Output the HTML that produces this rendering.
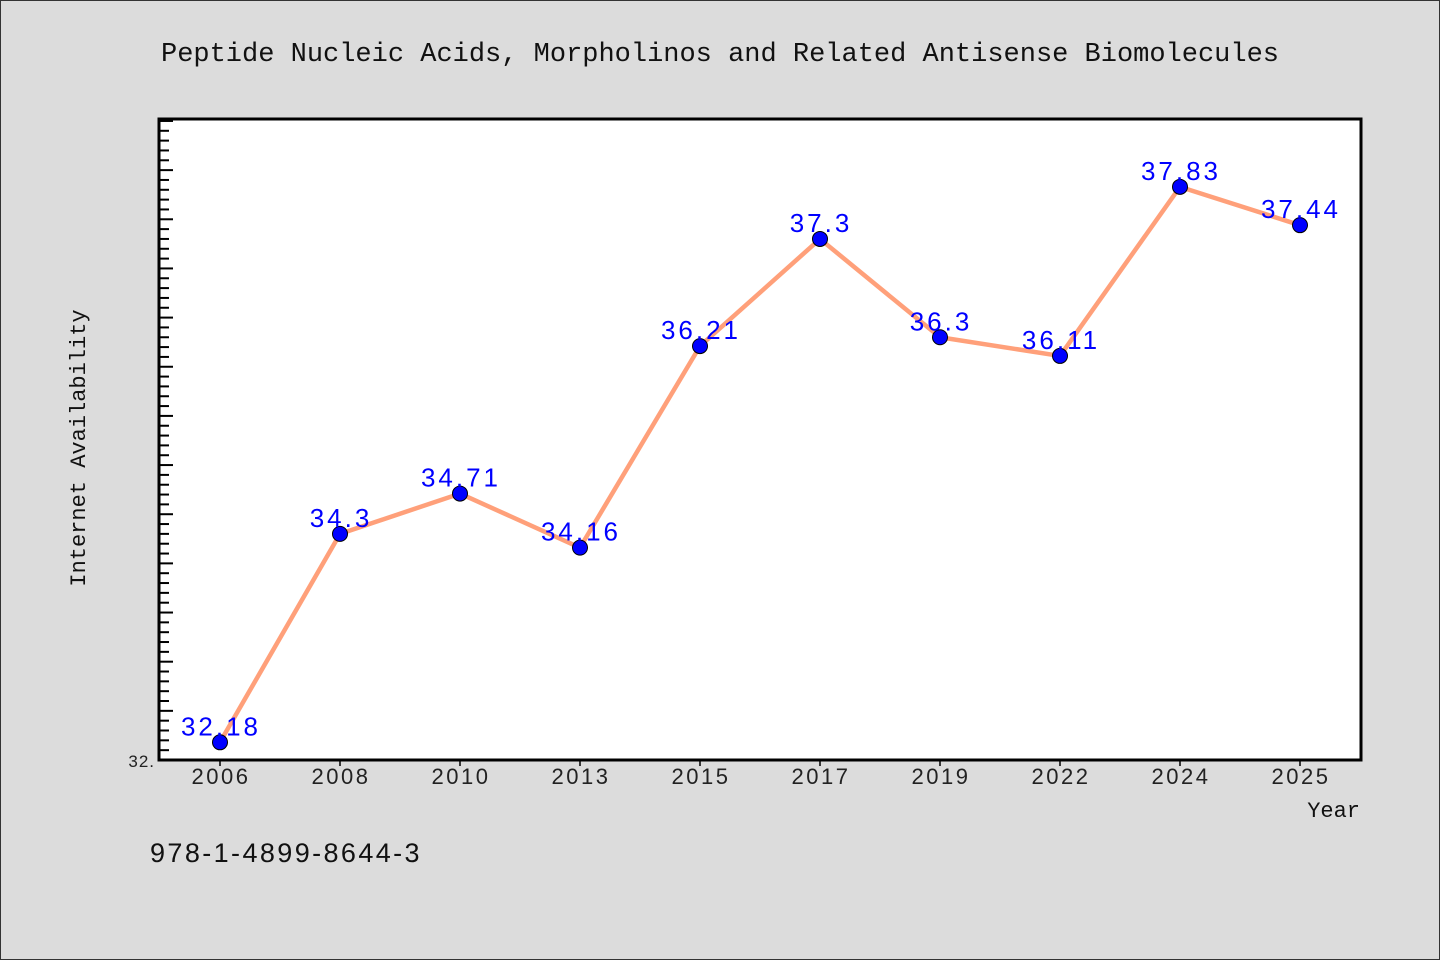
<!DOCTYPE html>
<html><head><meta charset="utf-8"><style>
html,body{margin:0;padding:0;background:#dcdcdc;}
svg{display:block;}
</style></head><body>
<svg width="1440" height="960" xmlns="http://www.w3.org/2000/svg">
<rect x="0.5" y="0.5" width="1439" height="959" fill="#dcdcdc" stroke="#333"/>
<text x="720" y="61" text-anchor="middle" font-family="Liberation Mono, DejaVu Sans Mono, monospace" font-size="27" fill="#111">Peptide Nucleic Acids, Morpholinos and Related Antisense Biomolecules</text>
<rect x="159" y="119" width="1202" height="641" fill="#fff"/>
<g id="ticks"></g>
<g id="xticks"></g>
<g id="series"></g>
<rect x="159" y="119" width="1202" height="641" fill="none" stroke="#000" stroke-width="3"/>
<text x="155" y="767" text-anchor="end" font-family="Liberation Sans, sans-serif" font-size="17" letter-spacing="1" fill="#222">32.</text>
<text x="85" y="448" text-anchor="middle" transform="rotate(-90 85 448)" font-family="Liberation Mono, DejaVu Sans Mono, monospace" font-size="22" fill="#111">Internet Availability</text>
<text x="1360" y="817" text-anchor="end" font-family="Liberation Mono, DejaVu Sans Mono, monospace" font-size="22" fill="#111">Year</text>
<text x="150" y="862" font-family="Liberation Sans, sans-serif" font-size="27" letter-spacing="2.4" fill="#111">978-1-4899-8644-3</text>
</svg>
<script>
const categories=["2006","2008","2010","2013","2015","2017","2019","2022","2024","2025"];
const values=[32.18,34.3,34.71,34.16,36.21,37.3,36.3,36.11,37.83,37.44];
const labels=["32.18","34.3","34.71","34.16","36.21","37.3","36.3","36.11","37.83","37.44"];
const yMin=32, yMax=38.52;
const L=160,R=1360,T=119,B=760;
const NS="http://www.w3.org/2000/svg";
const xs=i=>L+(R-L)/categories.length*(i+0.5);
const ys=v=>B-(v-yMin)/(yMax-yMin)*(B-T);
function mk(t,a,p){const e=document.createElementNS(NS,t);for(const k in a)e.setAttribute(k,a[k]);p.appendChild(e);return e;}
const tg=document.getElementById('ticks');
for(let k=1;;k++){const v=yMin+k*0.1;if(v>yMax)break;const y=ys(v);const major=k%5===0;
const l=mk('line',{x1:160,x2:major?173:169,y1:y,y2:y,stroke:'#000','stroke-width':2},tg);

}
const xg=document.getElementById('xticks');
categories.forEach((c,i)=>{const x=xs(i);
const l=mk('line',{x1:x,x2:x,y1:760,y2:766,stroke:'#000','stroke-width':1.5},xg);


const t=mk('text',{x:x+1,y:784,'text-anchor':'middle','font-family':'Liberation Sans, sans-serif','font-size':22,'letter-spacing':2.5,fill:'#222'},xg);
t.textContent=c;

});
const sg=document.getElementById('series');
const pl=mk('polyline',{points:values.map((v,i)=>xs(i)+','+ys(v)).join(' '),fill:'none',stroke:'#ffa07a','stroke-width':4.5,'stroke-linejoin':'round'},sg);


values.forEach((v,i)=>{
const c=mk('circle',{cx:xs(i),cy:ys(v),r:7.5,fill:'#0000ff',stroke:'#000','stroke-width':1},sg);


const t=mk('text',{x:xs(i)+1,y:ys(v)-7,'text-anchor':'middle','font-family':'Liberation Sans, sans-serif','font-size':26,'letter-spacing':3,fill:'#0000ff'},sg);
t.textContent=labels[i];

});
</script>
</body></html>
